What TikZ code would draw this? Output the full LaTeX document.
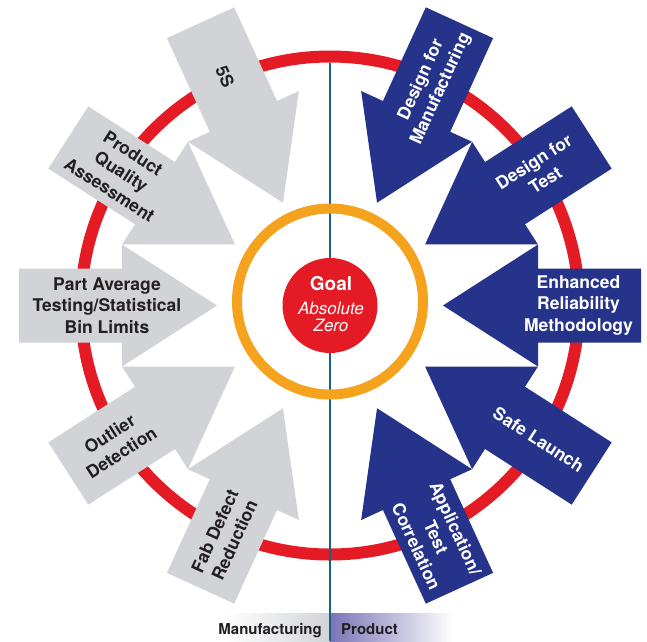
\documentclass[tikz,border=0pt]{standalone}
\usepackage{fontspec}
\setmainfont{TeX Gyre Heros}
\definecolor{ringred}{RGB}{228,27,36}
\definecolor{ringorange}{RGB}{245,162,30}
\definecolor{mfggray}{RGB}{209,211,214}
\definecolor{prodblue}{RGB}{38,51,138}
\definecolor{splitteal}{RGB}{22,100,130}
\definecolor{prodpurple}{RGB}{122,116,182}
\definecolor{labeldark}{RGB}{35,31,32}
\begin{document}
\begin{tikzpicture}[x=1pt,y=1pt,
        mfgarrow/.style={fill=mfggray},
        prodarrow/.style={fill=prodblue},
        mfglabel/.style={text=labeldark, font=\bfseries\fontsize{17.5}{21.7}\selectfont, align=center, inner sep=0pt},
        prodlabel/.style={text=white, font=\bfseries\fontsize{17.5}{21.7}\selectfont, align=center, inner sep=0pt},
        sidelabel/.style={text=labeldark, font=\bfseries\fontsize{15}{18}\selectfont, inner sep=0pt}]
        \useasboundingbox (-330,-335.5) rectangle (317,305.5);

        % Draw the outer red ring
        \draw[ringred, line width=12] (0,0) circle (249);

        % Draw the side tags at the bottom
        \shade[left color=white, right color=mfggray] (-105,-307.5) rectangle (0,-335.5);
        \shade[left color=prodpurple, right color=white] (0,-307.5) rectangle (123,-335.5);
        \node[sidelabel, anchor=base east] (mfg) at (-8,-328.5) {Manufacturing};
        \node[sidelabel, anchor=base west] (prod) at (11,-328.5) {Product};

        % Draw the dividing line
        \coordinate (top) at (0,243);
        \coordinate (bottom) at (0,-335.5);
        \draw[splitteal, line width=2.7] (top) -- (bottom);

        % Draw the orange ring and the goal
        \draw[ringorange, line width=10] (0,4) circle (93);
        \fill[ringred] (0,0) circle (47.5);
        \node[text=white, font=\bfseries\fontsize{19}{22}\selectfont, anchor=base, inner sep=0pt] (goal) at (1,14.8) {Goal};
        \node[text=white, font=\itshape\fontsize{17}{20}\selectfont, anchor=base, inner sep=0pt] (absolute) at (1,-8.5) {Absolute};
        \node[text=white, font=\itshape\fontsize{17}{20}\selectfont, anchor=base, inner sep=0pt] (zero) at (1,-26.2) {Zero};

        % Draw the product arrows on the right
        \fill[prodarrow, rotate=65.4] (113,0) -- (208,61) -- (208,37) -- (311,37) -- (311,-37) -- (208,-37) -- (208,-61) -- cycle;
        \fill[prodarrow, rotate=32.7] (113,0) -- (208,61) -- (208,37) -- (311,37) -- (311,-37) -- (208,-37) -- (208,-61) -- cycle;
        \fill[prodarrow, rotate=0] (113,0) -- (208,61) -- (208,37) -- (311,37) -- (311,-37) -- (208,-37) -- (208,-61) -- cycle;
        \fill[prodarrow, rotate=-32.7] (113,0) -- (208,61) -- (208,37) -- (311,37) -- (311,-37) -- (208,-37) -- (208,-61) -- cycle;
        \fill[prodarrow, rotate=-65.4] (113,0) -- (208,61) -- (208,37) -- (311,37) -- (311,-37) -- (208,-37) -- (208,-61) -- cycle;

        % Draw the manufacturing arrows on the left
        \fill[mfgarrow, rotate=114.6] (113,0) -- (208,61) -- (208,37) -- (311,37) -- (311,-37) -- (208,-37) -- (208,-61) -- cycle;
        \fill[mfgarrow, rotate=147.3] (113,0) -- (208,61) -- (208,37) -- (311,37) -- (311,-37) -- (208,-37) -- (208,-61) -- cycle;
        \fill[mfgarrow, rotate=180] (113,0) -- (208,61) -- (208,37) -- (311,37) -- (311,-37) -- (208,-37) -- (208,-61) -- cycle;
        \fill[mfgarrow, rotate=212.7] (113,0) -- (208,61) -- (208,37) -- (311,37) -- (311,-37) -- (208,-37) -- (208,-61) -- cycle;
        \fill[mfgarrow, rotate=245.4] (113,0) -- (208,61) -- (208,37) -- (311,37) -- (311,-37) -- (208,-37) -- (208,-61) -- cycle;

        % Add the labels inside the arrows
        \node[prodlabel, rotate=65.4] (dfm) at (65.4:243) {Design for\\Manufacturing};
        \node[prodlabel, rotate=32.7] (dft) at (32.7:249) {Design for\\Test};
        \node[prodlabel] (erm) at (0:248.5) {Enhanced\\Reliability\\Methodology};
        \node[prodlabel, rotate=-32.7] (launch) at (-32.7:248) {Safe Launch};
        \node[prodlabel, rotate=-65.4] (atc) at (-65.4:255) {Application/\\Test\\Correlation};

        \node[mfglabel, rotate=-65.4] (fives) at (114.6:252) {5S};
        \node[mfglabel, rotate=-32.7] (pqa) at (147.3:248) {Product\\Quality\\Assessment};
        \node[mfglabel] (pat) at (180:223) {Part Average\\Testing/Statistical\\Bin Limits};
        \node[mfglabel, rotate=32.7] (outlier) at (212.7:255) {Outlier\\Detection};
        \node[mfglabel, rotate=65.4] (fab) at (245.4:253) {Fab Defect\\Reduction};
    \end{tikzpicture}
\end{document}
